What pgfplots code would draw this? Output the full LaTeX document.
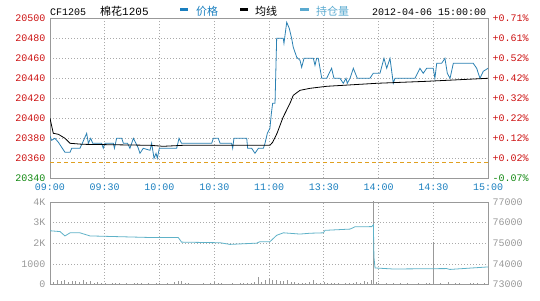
\documentclass[border=0pt]{standalone}
\usepackage{pgfplots}
\pgfplotsset{compat=1.18}
\usepackage{fontspec}
\setmainfont{Liberation Mono}
\newfontfamily\cjk{Noto Sans CJK SC}
\definecolor{cred}{HTML}{CC1111}
\definecolor{cgreen}{HTML}{118811}
\definecolor{cblue}{HTML}{1A7FBF}
\definecolor{pline}{HTML}{2A80B2}
\definecolor{oiline}{HTML}{5FB2C8}
\definecolor{oitext}{HTML}{5AAAD0}
\definecolor{framec}{HTML}{999999}
\definecolor{gridc}{HTML}{AAAAAA}
\definecolor{lgray}{HTML}{999999}
\definecolor{orng}{HTML}{E0A020}
\pgfplotsset{
  base/.style={
    scale only axis, width=438pt,
    xmin=0, xmax=240,
    axis line style={framec},
    major tick length=0pt,
    scaled ticks=false,
    xtick={0,30,60,90,120,150,180,210,240},
    xmajorgrids=true, ymajorgrids=true,
    major grid style={gridc, dash pattern=on 1pt off 2pt, line width=0.6pt},
    tick label style={font=\fontsize{10}{10}\selectfont},
    clip=true,
  }
}
\begin{document}
\begin{tikzpicture}
\path[use as bounding box] (0pt,0pt) rectangle (540pt,-300pt);
% header
\node[anchor=base west, inner sep=0pt] at (50pt,-15.5pt) {\fontsize{10}{10}\selectfont CF1205};
\node[anchor=base west, inner sep=0pt] at (100pt,-15.5pt) {\fontsize{11}{11}\selectfont{\cjk 棉花}1205};
\draw[cblue, line width=3pt] (180pt,-9.5pt) -- (188pt,-9.5pt);
\node[anchor=base west, inner sep=0pt, text=cblue] at (196pt,-15.5pt) {\fontsize{11}{11}\selectfont\cjk 价格};
\draw[black, line width=3pt] (240pt,-9.5pt) -- (248pt,-9.5pt);
\node[anchor=base west, inner sep=0pt] at (255pt,-15.5pt) {\fontsize{11}{11}\selectfont\cjk 均线};
\draw[oitext, line width=3pt] (300pt,-9.5pt) -- (309pt,-9.5pt);
\node[anchor=base west, inner sep=0pt, text=oitext] at (316pt,-15.5pt) {\fontsize{11}{11}\selectfont\cjk 持仓量};
\node[anchor=base west, inner sep=0pt] at (372pt,-15.5pt) {\fontsize{10}{10}\selectfont 2012-04-06 15:00:00};

% main price panel
\begin{axis}[base, at={(50pt,-18.3pt)}, anchor=north west, height=160pt,
  ymin=20340, ymax=20500,
  ytick={20340,20360,20380,20400,20420,20440,20460,20480,20500},
  yticklabels={\textcolor{cgreen}{20340},\textcolor{cred}{20360},\textcolor{cred}{20380},\textcolor{cred}{20400},\textcolor{cred}{20420},\textcolor{cred}{20440},\textcolor{cred}{20460},\textcolor{cred}{20480},\textcolor{cred}{20500}},
  xticklabels={09:00,09:30,10:00,10:30,11:00,13:30,14:00,14:30,15:00},
  xticklabel style={text=cblue, yshift=-2pt},
  yticklabel style={xshift=-1pt},
]
\addplot[orng, line width=0.8pt, dash pattern=on 4pt off 3pt] coordinates {(0,20356)(240,20356)};
\addplot[pline, line width=0.8pt] coordinates {
(0,20382)(0.9,20378)(2.7,20380)(4.6,20376)(8.2,20366)(11,20366)(11.9,20370)(16.4,20370)(17.7,20375)(20.1,20385)(21,20375)(22.3,20380)(23.4,20375)(28.3,20375)(29.2,20370)(30.1,20375)(34.7,20375)(35.3,20370)(36.5,20380)(39.3,20380)(40.2,20375)(42.5,20375)(43.8,20370)(45.7,20380)(47.1,20375)(48.4,20370)(49.3,20365)(51.1,20370)(54.8,20368)(55.7,20375)(57,20360)(58.1,20365)(58.8,20360)(59.9,20370)(69.4,20370)(70.7,20380)(72.1,20375)(88.6,20375)(89.5,20380)(92.2,20380)(93.2,20375)(99.5,20375)(100.1,20370)(100.8,20380)(107.8,20380)(108.3,20370)(110.5,20370)(112.3,20365)(114.2,20370)(116.9,20370)(117.8,20375)(119.1,20385)(120.5,20390)(121.3,20405)(122,20415)(123.3,20415)(124.2,20480)(127.8,20480)(128.2,20475)(129.7,20496)(131.1,20490)(132.4,20480)(133.3,20471)(135.2,20461)(137,20458)(137.9,20451)(139.2,20460)(144.3,20460)(145.2,20453)(146.1,20460)(147,20460)(148.9,20440)(151.6,20440)(154.3,20450)(155.6,20440)(158.9,20440)(160.7,20435)(162.2,20440)(162.9,20435)(164.4,20440)(166.2,20450)(168.4,20440)(175.3,20440)(177.1,20445)(180.8,20445)(183,20460)(184.5,20450)(186.3,20460)(188.1,20435)(189,20440)(200,20440)(202.7,20450)(204.5,20445)(206.4,20450)(210,20450)(210.9,20440)(211.9,20455)(214.6,20455)(216.4,20460)(217.7,20445)(219.2,20440)(221,20455)(223.7,20455)(231.9,20455)(233.8,20450)(235.6,20440)(237.4,20447)(240,20450)};
\addplot[black, line width=0.8pt] coordinates {
(0,20400)(1.8,20385)(4.6,20384)(8.2,20380)(11,20375)(18,20374)(55,20373)(62,20372)(73,20373)(120.5,20373)(122,20376)(124.4,20385)(127.7,20401)(131.5,20415)(133.3,20423)(137,20428)(142.5,20430)(151.6,20432)(179,20435)(206.4,20437)(240,20440)};
\end{axis}
\begin{axis}[scale only axis, width=438pt, height=160pt, at={(50pt,-18.3pt)}, anchor=north west,
  xmin=0, xmax=240, ymin=20340, ymax=20500,
  axis y line*=right, axis x line=none, axis line style={framec},
  major tick length=0pt, scaled ticks=false,
  ytick={20340,20360,20380,20400,20420,20440,20460,20480,20500},
  yticklabels={\textcolor{cgreen}{-0.07\%},\textcolor{cred}{+0.02\%},\textcolor{cred}{+0.12\%},\textcolor{cred}{+0.22\%},\textcolor{cred}{+0.32\%},\textcolor{cred}{+0.42\%},\textcolor{cred}{+0.52\%},\textcolor{cred}{+0.61\%},\textcolor{cred}{+0.71\%}},
  tick label style={font=\fontsize{10}{10}\selectfont},
  yticklabel style={xshift=1pt},
]
\addplot[draw=none] coordinates {(0,20340)(240,20500)};
\end{axis}

% lower panel: volume
\begin{axis}[base, at={(50pt,-201.8pt)}, anchor=north west, height=82.7pt,
  ymin=0, ymax=4000,
  ytick={0,1000,2000,3000,4000},
  yticklabels={0,1000,2K,3K,4K},
  xticklabels={},
  yticklabel style={text=lgray, xshift=-1pt},
]
\addplot[ycomb, lgray, line width=0.5pt] coordinates {
(0,180)(2,120)(4,210)(6,150)(8,230)(10,140)(12,190)(14,160)(16,120)(18,200)(20,110)(22,150)(24,90)(26,130)(28,70)(30,60)(32,40)(34,90)(36,50)(38,80)(40,30)(42,60)(44,40)(46,70)(48,50)(50,90)(52,40)(54,60)(56,30)(58,70)(60,50)(62,40)(64,60)(66,30)(68,120)(70,150)(72,160)(74,90)(76,60)(78,30)(80,40)(82,20)(84,50)(86,30)(88,60)(90,120)(92,80)(94,50)(96,40)(98,30)(100,60)(102,40)(104,70)(106,50)(108,90)(110,60)(112,130)(114,370)(116,140)(118,200)(120,250)(122,200)(124,230)(126,180)(128,150)(130,210)(132,120)(134,100)(136,80)(138,90)(140,60)(142,110)(144,220)(146,80)(148,60)(150,100)(152,70)(154,50)(156,60)(158,80)(160,40)(162,60)(164,50)(166,90)(168,110)(170,60)(172,150)(174,120)(176,200)(177.3,4500)(178.5,120)(180,60)(182,40)(184,50)(186,30)(188,60)(190,40)(192,50)(194,30)(196,70)(198,40)(200,30)(202,60)(204,40)(206,50)(208,60)(210,2060)(212,40)(214,50)(216,30)(218,110)(220,40)(222,60)(224,50)(226,30)(228,40)(230,60)(232,50)(234,70)(236,40)(238,60)(240,80)};
\end{axis}
% lower panel: open interest
\begin{axis}[scale only axis, width=438pt, height=82.7pt, at={(50pt,-201.8pt)}, anchor=north west,
  xmin=0, xmax=240, ymin=73000, ymax=77000,
  axis y line*=right, axis x line=none, axis line style={framec},
  major tick length=0pt, scaled ticks=false,
  ytick={73000,74000,75000,76000,77000},
  yticklabels={73000,74000,75000,76000,77000},
  tick label style={font=\fontsize{10}{10}\selectfont},
  yticklabel style={text=lgray, xshift=1pt},
]
\addplot[oiline, line width=0.8pt] coordinates {
(0,75600)(5.5,75560)(8.2,75350)(11,75500)(16.4,75500)(21.9,75350)(56.6,75270)(70.3,75270)(72.1,75050)(93.2,75020)(98.6,74940)(113.2,75000)(115,75070)(120.5,75070)(124.2,75380)(127.9,75500)(137,75440)(142.5,75480)(149.8,75500)(150.7,75620)(164.4,75680)(167.1,75790)(176.3,75800)(177.2,75890)(177.5,74330)(178.1,73800)(188.1,73750)(217.3,73770)(219.2,73730)(240,73850)};
\end{axis}
\end{tikzpicture}
\end{document}
